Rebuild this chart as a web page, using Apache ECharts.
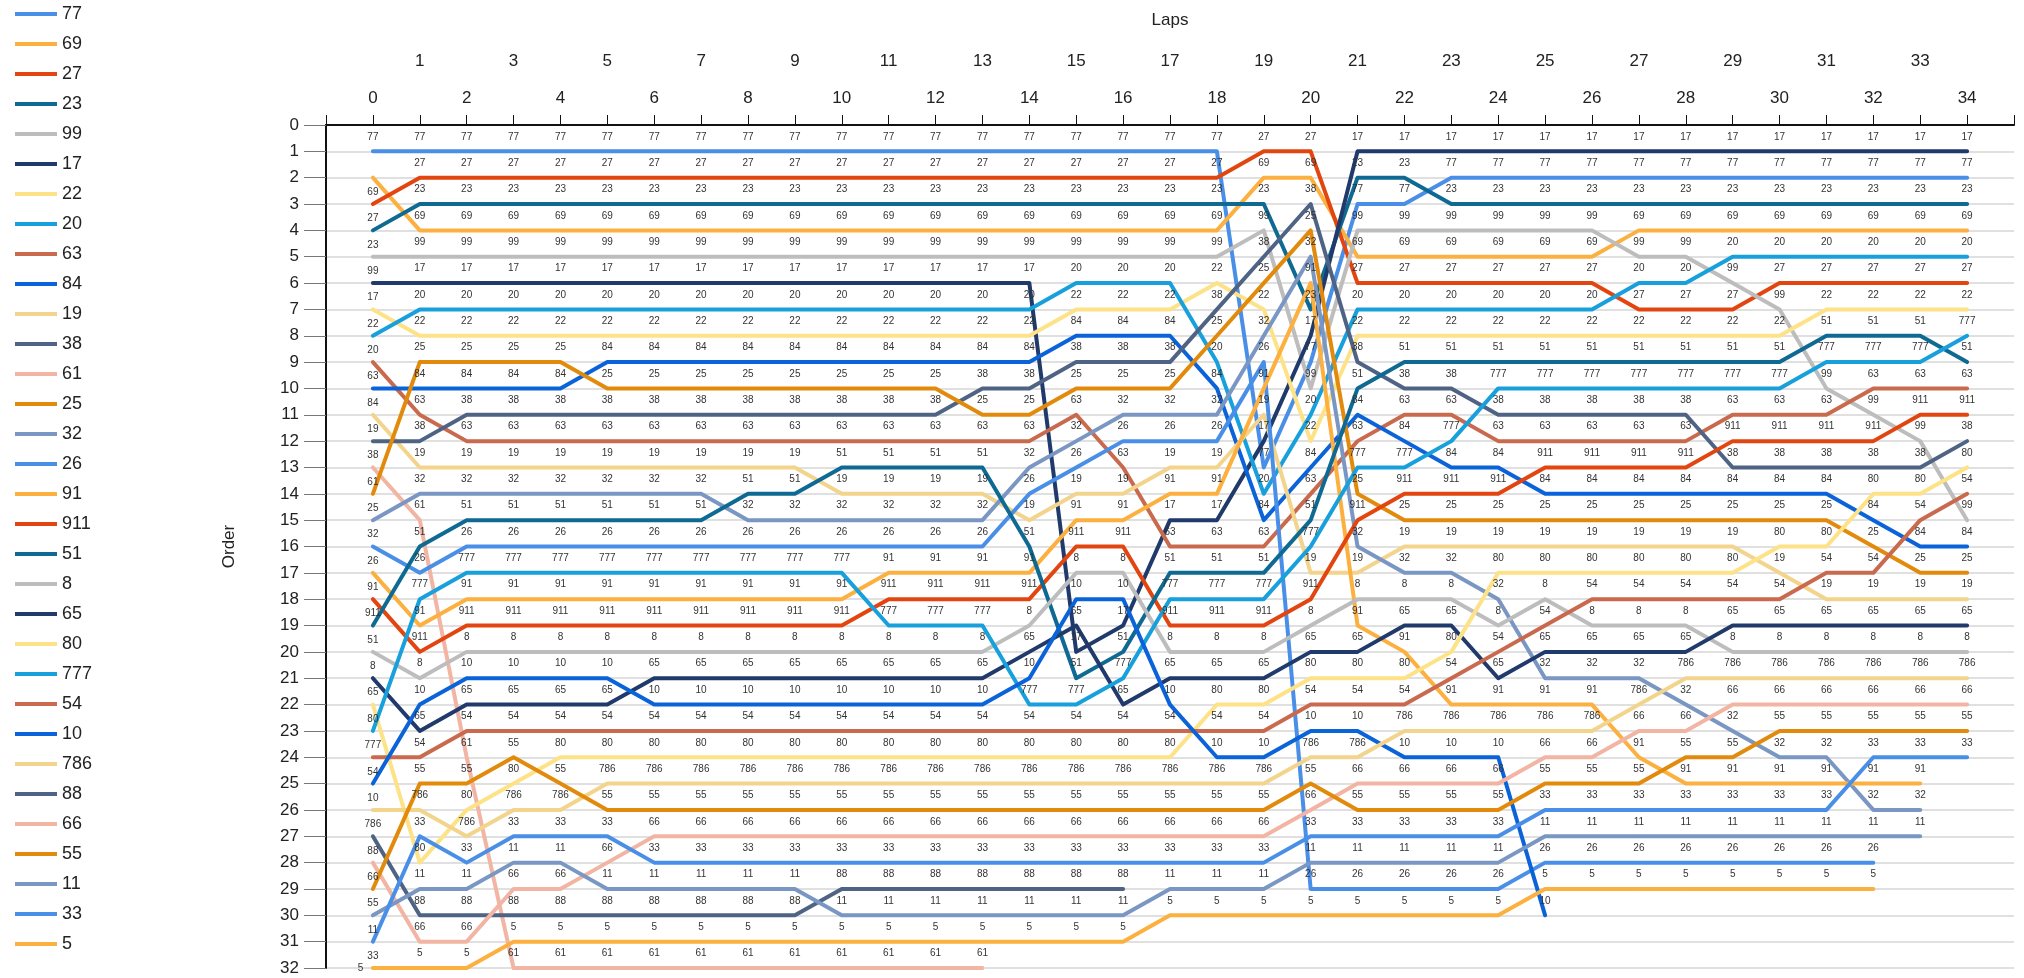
<!DOCTYPE html>
<html>
<head>
<meta charset="utf-8">
<title>Order by lap</title>
<script src="https://cdn.jsdelivr.net/npm/echarts@6/dist/echarts.min.js"></script>
<style>
  html, body { margin: 0; padding: 0; background: #fff; }
  #chart { width: 2024px; height: 978px; }
</style>
</head>
<body>
<div id="chart"></div>
<script>
// laps along the top axis
var laps = [0, 1, 2, 3, 4, 5, 6, 7, 8, 9, 10, 11, 12, 13, 14, 15, 16, 17, 18, 19, 20, 21, 22, 23, 24, 25, 26, 27, 28, 29, 30, 31, 32, 33, 34]

// car numbers in grid order (same as legend)
var drivers = ['77', '69', '27', '23', '99', '17', '22', '20', '63', '84', '19', '38', '61', '25', '32', '26',
  '91', '911', '51', '8', '65', '80', '777', '54', '10', '786', '88', '66', '55', '11', '33', '5']

// position of each car at every lap (null = retired)
var p77 = [1, 1, 1, 1, 1, 1, 1, 1, 1, 1, 1, 1, 1, 1, 1, 1, 1, 1, 1, 13, 9, 3, 3, 2, 2, 2, 2, 2, 2, 2, 2, 2, 2, 2, 2]
var p69 = [2, 4, 4, 4, 4, 4, 4, 4, 4, 4, 4, 4, 4, 4, 4, 4, 4, 4, 4, 2, 2, 5, 5, 5, 5, 5, 5, 4, 4, 4, 4, 4, 4, 4, 4]
var p27 = [3, 2, 2, 2, 2, 2, 2, 2, 2, 2, 2, 2, 2, 2, 2, 2, 2, 2, 2, 1, 1, 6, 6, 6, 6, 6, 6, 7, 7, 7, 6, 6, 6, 6, 6]
var p23 = [4, 3, 3, 3, 3, 3, 3, 3, 3, 3, 3, 3, 3, 3, 3, 3, 3, 3, 3, 3, 7, 2, 2, 3, 3, 3, 3, 3, 3, 3, 3, 3, 3, 3, 3]
var p99 = [5, 5, 5, 5, 5, 5, 5, 5, 5, 5, 5, 5, 5, 5, 5, 5, 5, 5, 5, 4, 10, 4, 4, 4, 4, 4, 4, 5, 5, 6, 7, 10, 11, 12, 15]
var p17 = [6, 6, 6, 6, 6, 6, 6, 6, 6, 6, 6, 6, 6, 6, 6, 20, 19, 15, 15, 12, 8, 1, 1, 1, 1, 1, 1, 1, 1, 1, 1, 1, 1, 1, 1]
var p22 = [7, 8, 8, 8, 8, 8, 8, 8, 8, 8, 8, 8, 8, 8, 8, 7, 7, 7, 6, 7, 12, 8, 8, 8, 8, 8, 8, 8, 8, 8, 8, 7, 7, 7, 7]
var p20 = [8, 7, 7, 7, 7, 7, 7, 7, 7, 7, 7, 7, 7, 7, 7, 6, 6, 6, 9, 14, 11, 7, 7, 7, 7, 7, 7, 6, 6, 5, 5, 5, 5, 5, 5]
var p63 = [9, 11, 12, 12, 12, 12, 12, 12, 12, 12, 12, 12, 12, 12, 12, 11, 13, 16, 16, 16, 14, 12, 11, 11, 12, 12, 12, 12, 12, 11, 11, 11, 10, 10, 10]
var p84 = [10, 10, 10, 10, 10, 9, 9, 9, 9, 9, 9, 9, 9, 9, 9, 8, 8, 8, 10, 15, 13, 11, 12, 13, 13, 14, 14, 14, 14, 14, 14, 14, 15, 16, 16]
var p19 = [11, 13, 13, 13, 13, 13, 13, 13, 13, 13, 14, 14, 14, 14, 15, 14, 14, 13, 13, 11, 17, 17, 16, 16, 16, 16, 16, 16, 16, 16, 17, 18, 18, 18, 18]
var p38 = [12, 12, 11, 11, 11, 11, 11, 11, 11, 11, 11, 11, 11, 10, 10, 9, 9, 9, 7, 5, 3, 9, 10, 10, 11, 11, 11, 11, 11, 13, 13, 13, 13, 13, 12]
var p61 = [13, 15, 24, 32, 32, 32, 32, 32, 32, 32, 32, 32, 32, 32, null, null, null, null, null, null, null, null, null, null, null, null, null, null, null, null, null, null, null, null, null]
var p25 = [14, 9, 9, 9, 9, 10, 10, 10, 10, 10, 10, 10, 10, 11, 11, 10, 10, 10, 8, 6, 4, 14, 15, 15, 15, 15, 15, 15, 15, 15, 15, 15, 16, 17, 17]
var p32 = [15, 14, 14, 14, 14, 14, 14, 14, 15, 15, 15, 15, 15, 15, 13, 12, 11, 11, 11, 8, 5, 16, 17, 17, 18, 21, 21, 21, 22, 23, 24, 24, 26, 26, null]
var p26 = [16, 17, 16, 16, 16, 16, 16, 16, 16, 16, 16, 16, 16, 16, 14, 13, 12, 12, 12, 9, 29, 29, 29, 29, 29, 28, 28, 28, 28, 28, 28, 28, 28, null, null]
var p91 = [17, 19, 18, 18, 18, 18, 18, 18, 18, 18, 18, 17, 17, 17, 17, 15, 15, 14, 14, 10, 6, 19, 20, 22, 22, 22, 22, 24, 25, 25, 25, 25, 25, 25, null]
var p911 = [18, 20, 19, 19, 19, 19, 19, 19, 19, 19, 19, 18, 18, 18, 18, 16, 16, 19, 19, 19, 18, 15, 14, 14, 14, 13, 13, 13, 13, 12, 12, 12, 12, 11, 11]
var p51 = [19, 16, 15, 15, 15, 15, 15, 15, 14, 14, 13, 13, 13, 13, 16, 21, 20, 17, 17, 17, 15, 10, 9, 9, 9, 9, 9, 9, 9, 9, 9, 8, 8, 8, 9]
var p8 = [20, 21, 20, 20, 20, 20, 20, 20, 20, 20, 20, 20, 20, 20, 19, 17, 17, 20, 20, 20, 19, 18, 18, 18, 19, 18, 19, 19, 19, 20, 20, 20, 20, 20, 20]
var p65 = [21, 23, 22, 22, 22, 22, 21, 21, 21, 21, 21, 21, 21, 21, 20, 19, 22, 21, 21, 21, 20, 20, 19, 19, 21, 20, 20, 20, 20, 19, 19, 19, 19, 19, 19]
var p80 = [22, 28, 26, 25, 24, 24, 24, 24, 24, 24, 24, 24, 24, 24, 24, 24, 24, 24, 22, 22, 21, 21, 21, 20, 17, 17, 17, 17, 17, 17, 16, 16, 14, 14, 13]
var p777 = [23, 18, 17, 17, 17, 17, 17, 17, 17, 17, 17, 19, 19, 19, 22, 22, 21, 18, 18, 18, 16, 13, 13, 12, 10, 10, 10, 10, 10, 10, 10, 9, 9, 9, 8]
var p54 = [24, 24, 23, 23, 23, 23, 23, 23, 23, 23, 23, 23, 23, 23, 23, 23, 23, 23, 23, 23, 22, 22, 22, 21, 20, 19, 18, 18, 18, 18, 18, 17, 17, 15, 14]
var p10 = [25, 22, 21, 21, 21, 21, 22, 22, 22, 22, 22, 22, 22, 22, 21, 18, 18, 22, 24, 24, 23, 23, 24, 24, 24, 30, null, null, null, null, null, null, null, null, null]
var p786 = [26, 26, 27, 26, 26, 25, 25, 25, 25, 25, 25, 25, 25, 25, 25, 25, 25, 25, 25, 25, 24, 24, 23, 23, 23, 23, 23, 22, 21, 21, 21, 21, 21, 21, 21]
var p88 = [27, 30, 30, 30, 30, 30, 30, 30, 30, 30, 29, 29, 29, 29, 29, 29, 29, null, null, null, null, null, null, null, null, null, null, null, null, null, null, null, null, null, null]
var p66 = [28, 31, 31, 29, 29, 28, 27, 27, 27, 27, 27, 27, 27, 27, 27, 27, 27, 27, 27, 27, 26, 25, 25, 25, 25, 24, 24, 23, 23, 22, 22, 22, 22, 22, 22]
var p55 = [29, 25, 25, 24, 25, 26, 26, 26, 26, 26, 26, 26, 26, 26, 26, 26, 26, 26, 26, 26, 25, 26, 26, 26, 26, 25, 25, 25, 24, 24, 23, 23, 23, 23, 23]
var p11 = [30, 29, 29, 28, 28, 29, 29, 29, 29, 29, 30, 30, 30, 30, 30, 30, 30, 29, 29, 29, 28, 28, 28, 28, 28, 27, 27, 27, 27, 27, 27, 27, 27, 27, null]
var p33 = [31, 27, 28, 27, 27, 27, 28, 28, 28, 28, 28, 28, 28, 28, 28, 28, 28, 28, 28, 28, 27, 27, 27, 27, 27, 26, 26, 26, 26, 26, 26, 26, 24, 24, 24]
var p5 = [32, 32, 32, 31, 31, 31, 31, 31, 31, 31, 31, 31, 31, 31, 31, 31, 31, 30, 30, 30, 30, 30, 30, 30, 30, 29, 29, 29, 29, 29, 29, 29, 29, null, null]

var positions = {
  '77': p77, '69': p69, '27': p27, '23': p23, '99': p99, '17': p17, '22': p22, '20': p20,
  '63': p63, '84': p84, '19': p19, '38': p38, '61': p61, '25': p25, '32': p32, '26': p26,
  '91': p91, '911': p911, '51': p51, '8': p8, '65': p65, '80': p80, '777': p777, '54': p54,
  '10': p10, '786': p786, '88': p88, '66': p66, '55': p55, '11': p11, '33': p33, '5': p5
}

var palette = ['#4a8fe7', '#fcb040', '#e2450f', '#0e6a93', '#bdbdbd', '#1f3a6b', '#fde287', '#17a0db',
  '#c96a4e', '#0b63d9', '#f3d48c', '#4f6384', '#f2b5a4', '#e28a0c', '#7a96c2']

var myChart = echarts.init(document.getElementById('chart'))

var series = drivers.map(function (d, k) {
  var data = []
  positions[d].forEach(function (p, i) {
    if (p === null) return
    var item = { value: [laps[i], p] }
    // on the start grid the labels sit under the points, the last one on the left
    if (i === 0 && k > 0) {
      item.label = { position: k === drivers.length - 1 ? 'left' : 'bottom' }
    }
    data.push(item)
  })
  return {
    name: d,
    type: 'line',
    data: data,
    symbol: 'circle',
    symbolSize: 1,
    showSymbol: true,
    lineStyle: { width: 4, cap: 'round', join: 'round' },
    label: { show: true, position: 'top', distance: 9, fontSize: 10, color: '#333', formatter: '{a}' },
    emphasis: { disabled: true }
  }
})

var option = {
  animation: false,
  color: palette,
  textStyle: { fontFamily: 'Liberation Sans, Arial, sans-serif' },
  legend: {
    orient: 'vertical',
    left: 10,
    top: 0,
    icon: 'rect',
    itemWidth: 42,
    itemHeight: 4,
    itemGap: 12,
    textStyle: { fontSize: 18, color: '#222', lineHeight: 16 },
    data: drivers
  },
  grid: { left: 326, right: 10, top: 125, bottom: 10 },
  xAxis: {
    type: 'value',
    position: 'top',
    min: -1,
    max: 35,
    interval: 1,
    name: 'Laps',
    nameLocation: 'middle',
    nameGap: 96,
    nameTextStyle: { fontSize: 17, color: '#222' },
    axisLine: { onZero: false, lineStyle: { color: '#111', width: 2 } },
    axisTick: { length: 10, lineStyle: { color: '#111' } },
    splitLine: { show: false },
    axisLabel: {
      fontSize: 17,
      color: '#222',
      lineHeight: 37,
      margin: 8,
      formatter: function (v) {
        if (v < 0 || v > 34) return ''
        return v % 2 ? v + '\n' : '' + v
      }
    }
  },
  yAxis: {
    type: 'value',
    inverse: true,
    min: 0,
    max: 32,
    interval: 1,
    name: 'Order',
    nameLocation: 'middle',
    nameGap: 88,
    nameTextStyle: { fontSize: 17, color: '#222' },
    axisLine: { show: true, onZero: false, lineStyle: { color: '#111', width: 2 } },
    axisTick: { show: true, length: 22, lineStyle: { color: '#777' } },
    axisLabel: { fontSize: 17, color: '#222', margin: 27 },
    splitLine: { lineStyle: { color: '#e0e0e0', width: 2 } }
  },
  series: series
}

myChart.setOption(option)
</script>
</body>
</html>
